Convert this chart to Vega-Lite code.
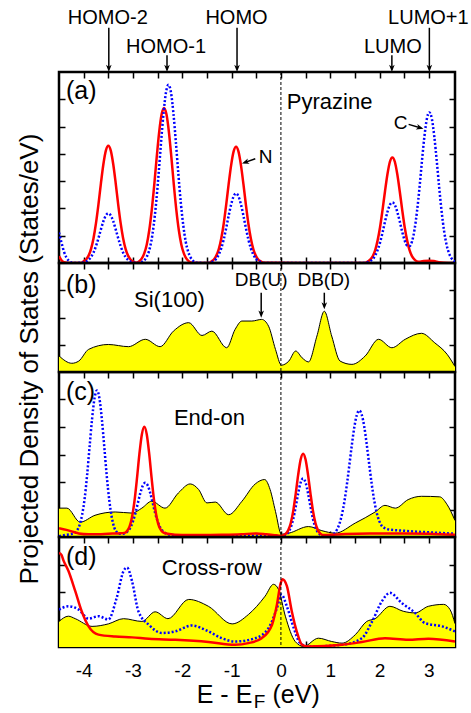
{
"$schema":"https://vega.github.io/schema/vega-lite/v6.json",
"padding":{"left":15,"top":7,"right":5,"bottom":0},
"background":"white",
"bounds":"flush",
"config":{"view":{"stroke":"black","strokeWidth":2.5},"axis":{"domain":false,"grid":false,"ticks":true,"tickSize":-6,"tickWidth":1.5,"tickColor":"black","labels":false},"concat":{"spacing":0},"font":"Liberation Sans"},
"datasets":{
"aN":[{"E":-4.5,"v":0.25},{"E":-4.45,"v":0.1},{"E":-4.4,"v":0.03},{"E":-4.3,"v":0},{"E":-4.05,"v":0},{"E":-4.0,"v":0.06},{"E":-3.95,"v":0.13},{"E":-3.9,"v":0.27},{"E":-3.85,"v":0.52},{"E":-3.8,"v":0.91},{"E":-3.75,"v":1.46},{"E":-3.7,"v":2.15},{"E":-3.65,"v":2.92},{"E":-3.6,"v":3.62},{"E":-3.55,"v":4.12},{"E":-3.5,"v":4.3},{"E":-3.45,"v":4.12},{"E":-3.4,"v":3.62},{"E":-3.35,"v":2.92},{"E":-3.3,"v":2.15},{"E":-3.25,"v":1.46},{"E":-3.2,"v":0.91},{"E":-3.15,"v":0.52},{"E":-3.1,"v":0.27},{"E":-3.05,"v":0.13},{"E":-3.0,"v":0.06},{"E":-2.94,"v":0.01},{"E":-2.87,"v":0.07},{"E":-2.82,"v":0.17},{"E":-2.77,"v":0.36},{"E":-2.72,"v":0.68},{"E":-2.67,"v":1.2},{"E":-2.62,"v":1.93},{"E":-2.57,"v":2.84},{"E":-2.52,"v":3.85},{"E":-2.47,"v":4.78},{"E":-2.42,"v":5.44},{"E":-2.37,"v":5.68},{"E":-2.32,"v":5.44},{"E":-2.27,"v":4.78},{"E":-2.22,"v":3.85},{"E":-2.17,"v":2.84},{"E":-2.12,"v":1.93},{"E":-2.07,"v":1.2},{"E":-2.02,"v":0.68},{"E":-1.97,"v":0.36},{"E":-1.92,"v":0.17},{"E":-1.87,"v":0.07},{"E":-1.8,"v":0.01},{"E":-1.45,"v":0},{"E":-1.41,"v":0.06},{"E":-1.36,"v":0.13},{"E":-1.31,"v":0.27},{"E":-1.26,"v":0.51},{"E":-1.21,"v":0.9},{"E":-1.16,"v":1.44},{"E":-1.11,"v":2.13},{"E":-1.06,"v":2.89},{"E":-1.01,"v":3.58},{"E":-0.96,"v":4.08},{"E":-0.91,"v":4.26},{"E":-0.86,"v":4.08},{"E":-0.81,"v":3.58},{"E":-0.76,"v":2.89},{"E":-0.71,"v":2.13},{"E":-0.66,"v":1.44},{"E":-0.61,"v":0.9},{"E":-0.56,"v":0.51},{"E":-0.51,"v":0.27},{"E":-0.46,"v":0.13},{"E":-0.41,"v":0.06},{"E":-0.35,"v":0.01},{"E":1.7,"v":0},{"E":1.76,"v":0.05},{"E":1.81,"v":0.12},{"E":1.86,"v":0.24},{"E":1.91,"v":0.46},{"E":1.96,"v":0.82},{"E":2.01,"v":1.31},{"E":2.06,"v":1.94},{"E":2.11,"v":2.62},{"E":2.16,"v":3.25},{"E":2.21,"v":3.71},{"E":2.26,"v":3.87},{"E":2.31,"v":3.71},{"E":2.36,"v":3.25},{"E":2.41,"v":2.62},{"E":2.46,"v":1.94},{"E":2.51,"v":1.31},{"E":2.56,"v":0.82},{"E":2.61,"v":0.46},{"E":2.66,"v":0.24},{"E":2.71,"v":0.12},{"E":2.76,"v":0.06},{"E":2.82,"v":0.05},{"E":2.9,"v":0.07},{"E":3.0,"v":0.08},{"E":3.1,"v":0.07},{"E":3.2,"v":0.03},{"E":3.3,"v":0.01},{"E":3.53,"v":0}],
"aC":[{"E":-4.5,"v":1.12},{"E":-4.45,"v":0.75},{"E":-4.4,"v":0.42},{"E":-4.35,"v":0.2},{"E":-4.3,"v":0.08},{"E":-4.25,"v":0.02},{"E":-4.15,"v":0},{"E":-4.0,"v":0.02},{"E":-3.95,"v":0.05},{"E":-3.9,"v":0.11},{"E":-3.85,"v":0.22},{"E":-3.8,"v":0.38},{"E":-3.75,"v":0.62},{"E":-3.7,"v":0.91},{"E":-3.65,"v":1.23},{"E":-3.6,"v":1.53},{"E":-3.55,"v":1.74},{"E":-3.5,"v":1.82},{"E":-3.45,"v":1.74},{"E":-3.4,"v":1.53},{"E":-3.35,"v":1.23},{"E":-3.3,"v":0.91},{"E":-3.25,"v":0.62},{"E":-3.2,"v":0.38},{"E":-3.15,"v":0.22},{"E":-3.1,"v":0.11},{"E":-3.05,"v":0.05},{"E":-3.0,"v":0.02},{"E":-2.9,"v":0},{"E":-2.78,"v":0.08},{"E":-2.73,"v":0.2},{"E":-2.68,"v":0.41},{"E":-2.63,"v":0.78},{"E":-2.58,"v":1.38},{"E":-2.53,"v":2.21},{"E":-2.48,"v":3.27},{"E":-2.43,"v":4.43},{"E":-2.38,"v":5.49},{"E":-2.33,"v":6.26},{"E":-2.28,"v":6.53},{"E":-2.23,"v":6.26},{"E":-2.18,"v":5.49},{"E":-2.13,"v":4.43},{"E":-2.08,"v":3.27},{"E":-2.03,"v":2.21},{"E":-1.98,"v":1.38},{"E":-1.93,"v":0.78},{"E":-1.88,"v":0.41},{"E":-1.83,"v":0.2},{"E":-1.78,"v":0.08},{"E":-1.72,"v":0.01},{"E":-1.5,"v":0},{"E":-1.41,"v":0.03},{"E":-1.36,"v":0.08},{"E":-1.31,"v":0.16},{"E":-1.26,"v":0.31},{"E":-1.21,"v":0.54},{"E":-1.16,"v":0.86},{"E":-1.11,"v":1.28},{"E":-1.06,"v":1.73},{"E":-1.01,"v":2.14},{"E":-0.96,"v":2.44},{"E":-0.91,"v":2.55},{"E":-0.86,"v":2.44},{"E":-0.81,"v":2.14},{"E":-0.76,"v":1.73},{"E":-0.71,"v":1.28},{"E":-0.66,"v":0.86},{"E":-0.61,"v":0.54},{"E":-0.56,"v":0.31},{"E":-0.51,"v":0.16},{"E":-0.46,"v":0.08},{"E":-0.41,"v":0.03},{"E":-0.35,"v":0},{"E":1.7,"v":0},{"E":1.76,"v":0.03},{"E":1.81,"v":0.07},{"E":1.86,"v":0.14},{"E":1.91,"v":0.27},{"E":1.96,"v":0.47},{"E":2.01,"v":0.75},{"E":2.06,"v":1.11},{"E":2.11,"v":1.51},{"E":2.16,"v":1.87},{"E":2.21,"v":2.13},{"E":2.26,"v":2.22},{"E":2.31,"v":2.13},{"E":2.36,"v":1.87},{"E":2.41,"v":1.52},{"E":2.46,"v":1.14},{"E":2.51,"v":0.82},{"E":2.56,"v":0.64},{"E":2.61,"v":0.62},{"E":2.66,"v":0.8},{"E":2.71,"v":1.23},{"E":2.76,"v":1.9},{"E":2.81,"v":2.76},{"E":2.86,"v":3.74},{"E":2.91,"v":4.64},{"E":2.96,"v":5.29},{"E":3.01,"v":5.52},{"E":3.06,"v":5.29},{"E":3.11,"v":4.64},{"E":3.16,"v":3.74},{"E":3.21,"v":2.76},{"E":3.26,"v":1.87},{"E":3.31,"v":1.16},{"E":3.36,"v":0.66},{"E":3.41,"v":0.35},{"E":3.46,"v":0.17},{"E":3.51,"v":0.07},{"E":3.53,"v":0.05}],
"bSi":[{"E":-4.5,"v":0.59},{"E":-4.24,"v":0.32},{"E":-4.1,"v":0.4},{"E":-3.9,"v":0.83},{"E":-3.5,"v":1.01},{"E":-3.09,"v":0.93},{"E":-2.75,"v":1.2},{"E":-2.45,"v":0.93},{"E":-2.18,"v":1.5},{"E":-1.87,"v":1.81},{"E":-1.6,"v":1.34},{"E":-1.4,"v":1.5},{"E":-1.1,"v":0.89},{"E":-0.93,"v":1.56},{"E":-0.79,"v":1.87},{"E":-0.59,"v":1.87},{"E":-0.39,"v":1.93},{"E":-0.25,"v":1.68},{"E":-0.11,"v":0.83},{"E":0.01,"v":0.25},{"E":0.16,"v":0.4},{"E":0.3,"v":0.77},{"E":0.43,"v":0.52},{"E":0.56,"v":0.37},{"E":0.73,"v":1.32},{"E":0.88,"v":2.23},{"E":1.03,"v":1.32},{"E":1.2,"v":0.4},{"E":1.44,"v":0.28},{"E":1.71,"v":0.59},{"E":1.98,"v":1.2},{"E":2.25,"v":0.89},{"E":2.52,"v":1.2},{"E":2.85,"v":1.42},{"E":3.12,"v":1.07},{"E":3.37,"v":0.65},{"E":3.53,"v":0.2}],
"cSi":[{"E":-4.5,"v":1.05},{"E":-4.34,"v":1.05},{"E":-4.07,"v":0.54},{"E":-3.77,"v":0.79},{"E":-3.36,"v":0.91},{"E":-3.02,"v":0.87},{"E":-2.82,"v":1.05},{"E":-2.62,"v":1.3},{"E":-2.35,"v":1.05},{"E":-2.08,"v":1.6},{"E":-1.84,"v":1.93},{"E":-1.67,"v":1.73},{"E":-1.5,"v":1.24},{"E":-1.33,"v":1.27},{"E":-1.06,"v":0.81},{"E":-0.79,"v":1.3},{"E":-0.52,"v":1.93},{"E":-0.33,"v":2.09},{"E":-0.22,"v":1.73},{"E":-0.11,"v":0.93},{"E":0.01,"v":0.1},{"E":0.16,"v":0.14},{"E":0.56,"v":0.38},{"E":0.83,"v":0.23},{"E":1.1,"v":0.14},{"E":1.51,"v":0.51},{"E":1.91,"v":0.91},{"E":2.11,"v":1.15},{"E":2.32,"v":1.05},{"E":2.58,"v":1.36},{"E":2.85,"v":1.48},{"E":3.22,"v":1.46},{"E":3.37,"v":1.18},{"E":3.53,"v":0.6}],
"cN":[{"E":-4.5,"v":0.32},{"E":-4.35,"v":0.26},{"E":-4.2,"v":0.18},{"E":-4.1,"v":0.13},{"E":-3.9,"v":0.1},{"E":-3.7,"v":0.1},{"E":-3.5,"v":0.12},{"E":-3.3,"v":0.13},{"E":-3.17,"v":0.15},{"E":-3.12,"v":0.22},{"E":-3.07,"v":0.38},{"E":-3.02,"v":0.72},{"E":-2.97,"v":1.3},{"E":-2.92,"v":2.11},{"E":-2.87,"v":3.01},{"E":-2.82,"v":3.73},{"E":-2.77,"v":4.01},{"E":-2.72,"v":3.73},{"E":-2.67,"v":3.01},{"E":-2.62,"v":2.11},{"E":-2.57,"v":1.3},{"E":-2.52,"v":0.72},{"E":-2.47,"v":0.38},{"E":-2.42,"v":0.22},{"E":-2.37,"v":0.15},{"E":-2.3,"v":0.12},{"E":-2.0,"v":0.07},{"E":-1.6,"v":0.07},{"E":-1.2,"v":0.08},{"E":-0.8,"v":0.1},{"E":-0.5,"v":0.13},{"E":-0.3,"v":0.1},{"E":-0.1,"v":0.06},{"E":0.0,"v":0.04},{"E":0.05,"v":0.07},{"E":0.1,"v":0.12},{"E":0.15,"v":0.25},{"E":0.2,"v":0.51},{"E":0.25,"v":0.95},{"E":0.3,"v":1.57},{"E":0.35,"v":2.26},{"E":0.4,"v":2.82},{"E":0.45,"v":3.03},{"E":0.5,"v":2.82},{"E":0.55,"v":2.26},{"E":0.6,"v":1.57},{"E":0.65,"v":0.95},{"E":0.7,"v":0.51},{"E":0.75,"v":0.25},{"E":0.8,"v":0.12},{"E":0.85,"v":0.07},{"E":1.0,"v":0.08},{"E":1.3,"v":0.11},{"E":1.8,"v":0.13},{"E":2.5,"v":0.13},{"E":3.0,"v":0.12},{"E":3.53,"v":0.08}],
"cC":[{"E":-4.5,"v":0.03},{"E":-4.35,"v":0.08},{"E":-4.23,"v":0.12},{"E":-4.18,"v":0.15},{"E":-4.13,"v":0.25},{"E":-4.08,"v":0.45},{"E":-4.03,"v":0.82},{"E":-3.98,"v":1.4},{"E":-3.93,"v":2.25},{"E":-3.88,"v":3.28},{"E":-3.83,"v":4.28},{"E":-3.78,"v":5.04},{"E":-3.73,"v":5.33},{"E":-3.68,"v":5.04},{"E":-3.63,"v":4.27},{"E":-3.58,"v":3.24},{"E":-3.53,"v":2.19},{"E":-3.48,"v":1.33},{"E":-3.43,"v":0.72},{"E":-3.38,"v":0.35},{"E":-3.33,"v":0.18},{"E":-3.28,"v":0.12},{"E":-3.2,"v":0.12},{"E":-3.15,"v":0.15},{"E":-3.1,"v":0.22},{"E":-3.05,"v":0.35},{"E":-3.0,"v":0.57},{"E":-2.95,"v":0.87},{"E":-2.9,"v":1.24},{"E":-2.85,"v":1.6},{"E":-2.8,"v":1.87},{"E":-2.75,"v":1.97},{"E":-2.7,"v":1.87},{"E":-2.65,"v":1.6},{"E":-2.6,"v":1.24},{"E":-2.55,"v":0.87},{"E":-2.5,"v":0.57},{"E":-2.45,"v":0.35},{"E":-2.4,"v":0.22},{"E":-2.35,"v":0.15},{"E":-2.25,"v":0.08},{"E":-2.0,"v":0.05},{"E":-1.5,"v":0.04},{"E":-1.0,"v":0.04},{"E":-0.5,"v":0.05},{"E":-0.1,"v":0.04},{"E":0.0,"v":0.03},{"E":0.05,"v":0.04},{"E":0.1,"v":0.08},{"E":0.15,"v":0.17},{"E":0.2,"v":0.35},{"E":0.25,"v":0.66},{"E":0.3,"v":1.1},{"E":0.35,"v":1.59},{"E":0.4,"v":1.98},{"E":0.45,"v":2.13},{"E":0.5,"v":1.98},{"E":0.55,"v":1.59},{"E":0.6,"v":1.1},{"E":0.65,"v":0.66},{"E":0.7,"v":0.35},{"E":0.75,"v":0.17},{"E":0.8,"v":0.08},{"E":0.85,"v":0.04},{"E":1.0,"v":0.05},{"E":1.09,"v":0.14},{"E":1.14,"v":0.28},{"E":1.19,"v":0.5},{"E":1.24,"v":0.84},{"E":1.29,"v":1.32},{"E":1.34,"v":1.94},{"E":1.39,"v":2.65},{"E":1.44,"v":3.37},{"E":1.49,"v":4.01},{"E":1.54,"v":4.44},{"E":1.59,"v":4.6},{"E":1.64,"v":4.44},{"E":1.69,"v":4.01},{"E":1.74,"v":3.37},{"E":1.79,"v":2.65},{"E":1.84,"v":1.94},{"E":1.89,"v":1.35},{"E":1.94,"v":0.9},{"E":1.99,"v":0.6},{"E":2.04,"v":0.42},{"E":2.1,"v":0.33},{"E":2.2,"v":0.27},{"E":2.4,"v":0.24},{"E":2.7,"v":0.2},{"E":3.0,"v":0.17},{"E":3.53,"v":0.12}],
"dSi":[{"E":-4.5,"v":0.93},{"E":-4.31,"v":1.12},{"E":-4.17,"v":1.03},{"E":-3.83,"v":0.75},{"E":-3.5,"v":0.84},{"E":-3.19,"v":1.03},{"E":-2.82,"v":0.93},{"E":-2.55,"v":1.28},{"E":-2.29,"v":1.03},{"E":-1.87,"v":1.73},{"E":-1.47,"v":1.48},{"E":-0.99,"v":0.84},{"E":-0.66,"v":1.18},{"E":-0.32,"v":1.85},{"E":-0.15,"v":2.28},{"E":-0.05,"v":2.1},{"E":0.09,"v":1.12},{"E":0.29,"v":0.2},{"E":0.46,"v":0.02},{"E":0.76,"v":0.32},{"E":1.03,"v":0.2},{"E":1.24,"v":0.14},{"E":1.51,"v":0.45},{"E":1.74,"v":0.93},{"E":1.91,"v":1.03},{"E":2.21,"v":1.48},{"E":2.48,"v":1.3},{"E":2.72,"v":1.24},{"E":2.99,"v":1.48},{"E":3.3,"v":1.55},{"E":3.43,"v":1.36},{"E":3.53,"v":0.85}],
"dN":[{"E":-4.5,"v":3.42},{"E":-4.45,"v":3.35},{"E":-4.41,"v":3.15},{"E":-4.31,"v":2.77},{"E":-4.17,"v":2.03},{"E":-4.04,"v":1.3},{"E":-3.9,"v":0.75},{"E":-3.7,"v":0.45},{"E":-3.36,"v":0.38},{"E":-3.02,"v":0.35},{"E":-2.68,"v":0.3},{"E":-2.14,"v":0.26},{"E":-1.47,"v":0.18},{"E":-0.93,"v":0.08},{"E":-0.66,"v":0.14},{"E":-0.39,"v":0.32},{"E":-0.18,"v":0.81},{"E":-0.08,"v":1.55},{"E":-0.01,"v":2.28},{"E":0.03,"v":2.46},{"E":0.12,"v":2.22},{"E":0.22,"v":1.3},{"E":0.32,"v":0.57},{"E":0.43,"v":0.08},{"E":0.56,"v":0.02},{"E":1.24,"v":0.08},{"E":1.64,"v":0.18},{"E":2.11,"v":0.32},{"E":2.58,"v":0.26},{"E":2.99,"v":0.3},{"E":3.53,"v":0.2}],
"dC":[{"E":-4.5,"v":1.36},{"E":-4.31,"v":1.48},{"E":-4.1,"v":1.36},{"E":-3.9,"v":1.03},{"E":-3.7,"v":1.12},{"E":-3.5,"v":1.0},{"E":-3.33,"v":1.79},{"E":-3.19,"v":2.77},{"E":-3.12,"v":2.89},{"E":-3.02,"v":2.4},{"E":-2.89,"v":1.3},{"E":-2.68,"v":0.81},{"E":-2.41,"v":0.51},{"E":-2.14,"v":0.57},{"E":-1.81,"v":0.78},{"E":-1.47,"v":0.57},{"E":-1.2,"v":0.32},{"E":-0.93,"v":0.2},{"E":-0.52,"v":0.32},{"E":-0.25,"v":0.69},{"E":-0.08,"v":1.42},{"E":0.01,"v":1.91},{"E":0.12,"v":1.48},{"E":0.26,"v":0.69},{"E":0.39,"v":0.14},{"E":0.56,"v":0.02},{"E":1.24,"v":0.08},{"E":1.64,"v":0.32},{"E":1.85,"v":0.93},{"E":2.05,"v":1.67},{"E":2.21,"v":1.97},{"E":2.45,"v":1.6},{"E":2.72,"v":1.24},{"E":2.92,"v":0.87},{"E":3.27,"v":0.75},{"E":3.53,"v":0.57}]
},
"vconcat":[
{"width":396,"height":191,
 "resolve":{"axis":{"x":"independent","y":"independent"}},
 "layer":[
  {"data":{"name":"aN"},"mark":{"type":"line","color":"#ff0000","strokeWidth":2.5,"interpolate":"monotone","clip":true},
   "encoding":{"x":{"field":"E","type":"quantitative","scale":{"domain":[-4.5,3.53],"nice":false,"zero":false},"axis":{"orient":"bottom","values":[-4,-3.5,-3,-2.5,-2,-1.5,-1,-0.5,0,0.5,1,1.5,2,2.5,3],"title":null}},
    "y":{"field":"v","type":"quantitative","scale":{"domain":[0,7],"nice":false},"axis":{"orient":"left","values":[1,2,3,4,5,6],"title":null}}}},
  {"data":{"name":"aC"},"mark":{"type":"line","color":"#0000ff","strokeWidth":2.5,"strokeDash":[2,2],"interpolate":"monotone","clip":true},
   "encoding":{"x":{"field":"E","type":"quantitative","scale":{"domain":[-4.5,3.53],"nice":false,"zero":false},"axis":{"orient":"top","values":[-4,-3.5,-3,-2.5,-2,-1.5,-1,-0.5,0,0.5,1,1.5,2,2.5,3],"title":null}},
    "y":{"field":"v","type":"quantitative","scale":{"domain":[0,7],"nice":false},"axis":{"orient":"right","values":[1,2,3,4,5,6],"title":null}}}},
  {"data":{"values":[{"E":0}]},"mark":{"type":"rule","color":"black","strokeWidth":1,"strokeDash":[3,2]},
   "encoding":{"x":{"field":"E","type":"quantitative","scale":{"domain":[-4.5,3.53],"nice":false,"zero":false},"axis":null}}},
  {"data":{"values":[{"E":-4.36,"v":6.01,"t":"(a)"}]},"mark":{"type":"text","fontSize":25,"align":"left","baseline":"alphabetic","font":"Liberation Sans","color":"black"},
   "encoding":{"x":{"field":"E","type":"quantitative","scale":{"domain":[-4.5,3.53],"nice":false,"zero":false},"axis":null},"y":{"field":"v","type":"quantitative","scale":{"domain":[0,7],"nice":false},"axis":null},"text":{"field":"t"}}},
  {"data":{"values":[{"E":0.12,"v":5.63,"t":"Pyrazine"}]},"mark":{"type":"text","fontSize":22,"align":"left","baseline":"alphabetic","font":"Liberation Sans","color":"black"},
   "encoding":{"x":{"field":"E","type":"quantitative","scale":{"domain":[-4.5,3.53],"nice":false,"zero":false},"axis":null},"y":{"field":"v","type":"quantitative","scale":{"domain":[0,7],"nice":false},"axis":null},"text":{"field":"t"}}},
  {"data":{"values":[{"E":-0.45,"v":3.65,"t":"N"},{"E":2.29,"v":4.9,"t":"C"}]},"mark":{"type":"text","fontSize":19,"align":"left","baseline":"alphabetic","font":"Liberation Sans","color":"black"},
   "encoding":{"x":{"field":"E","type":"quantitative","scale":{"domain":[-4.5,3.53],"nice":false,"zero":false},"axis":null},"y":{"field":"v","type":"quantitative","scale":{"domain":[0,7],"nice":false},"axis":null},"text":{"field":"t"}}},
  {"data":{"values":[{"E":-3.51,"v":8.75,"t":"HOMO-2"},{"E":-2.33,"v":7.71,"t":"HOMO-1"},{"E":-0.9,"v":8.75,"t":"HOMO"},{"E":2.27,"v":7.71,"t":"LUMO"},{"E":2.99,"v":8.75,"t":"LUMO+1"}]},"mark":{"type":"text","fontSize":20,"align":"center","baseline":"alphabetic","font":"Liberation Sans","color":"black"},
   "encoding":{"x":{"field":"E","type":"quantitative","scale":{"domain":[-4.5,3.53],"nice":false,"zero":false},"axis":null},"y":{"field":"v","type":"quantitative","scale":{"domain":[0,7],"nice":false},"axis":null},"text":{"field":"t"}}},
  {"data":{"values":[{"E":-3.49,"v":8.62,"E2":-3.49,"v2":7.1},{"E":-2.31,"v":7.61,"E2":-2.31,"v2":7.1},{"E":-0.89,"v":8.62,"E2":-0.89,"v2":7.1},{"E":2.25,"v":7.61,"E2":2.25,"v2":7.1},{"E":3.01,"v":8.62,"E2":3.01,"v2":7.1},{"E":-0.52,"v":3.82,"E2":-0.74,"v2":3.68},{"E":2.59,"v":5.08,"E2":2.84,"v2":4.95}]},"mark":{"type":"rule","color":"black","strokeWidth":1.5},
   "encoding":{"x":{"field":"E","type":"quantitative","scale":{"domain":[-4.5,3.53],"nice":false,"zero":false},"axis":null},"y":{"field":"v","type":"quantitative","scale":{"domain":[0,7],"nice":false},"axis":null},"x2":{"field":"E2"},"y2":{"field":"v2"}}},
  {"data":{"values":[{"E":-3.49,"v":7.0},{"E":-2.31,"v":7.0},{"E":-0.89,"v":7.0},{"E":2.25,"v":7.0},{"E":3.01,"v":7.0}]},"mark":{"type":"point","shape":"M0,0L-0.7,-1.8L0,-1.3L0.7,-1.8Z","size":64,"filled":true,"color":"black","opacity":1},
   "encoding":{"x":{"field":"E","type":"quantitative","scale":{"domain":[-4.5,3.53],"nice":false,"zero":false},"axis":null},"y":{"field":"v","type":"quantitative","scale":{"domain":[0,7],"nice":false},"axis":null}}},
  {"data":{"values":[{"E":-0.79,"v":3.65}]},"mark":{"type":"point","shape":"M0,0L-0.7,-1.8L0,-1.3L0.7,-1.8Z","size":64,"filled":true,"color":"black","opacity":1,"angle":71},
   "encoding":{"x":{"field":"E","type":"quantitative","scale":{"domain":[-4.5,3.53],"nice":false,"zero":false},"axis":null},"y":{"field":"v","type":"quantitative","scale":{"domain":[0,7],"nice":false},"axis":null}}},
  {"data":{"values":[{"E":2.89,"v":4.92}]},"mark":{"type":"point","shape":"M0,0L-0.7,-1.8L0,-1.3L0.7,-1.8Z","size":64,"filled":true,"color":"black","opacity":1,"angle":286},
   "encoding":{"x":{"field":"E","type":"quantitative","scale":{"domain":[-4.5,3.53],"nice":false,"zero":false},"axis":null},"y":{"field":"v","type":"quantitative","scale":{"domain":[0,7],"nice":false},"axis":null}}}
 ]},
{"width":396,"height":109,
 "resolve":{"axis":{"x":"independent","y":"independent"}},
 "layer":[
  {"data":{"name":"bSi"},"mark":{"type":"area","color":"#ffff00","opacity":1,"interpolate":"monotone","clip":true,"line":{"color":"black","strokeWidth":1}},
   "encoding":{"x":{"field":"E","type":"quantitative","scale":{"domain":[-4.5,3.53],"nice":false,"zero":false},"axis":{"orient":"bottom","values":[-4,-3.5,-3,-2.5,-2,-1.5,-1,-0.5,0,0.5,1,1.5,2,2.5,3],"title":null}},
    "y":{"field":"v","type":"quantitative","scale":{"domain":[0,4],"nice":false},"axis":{"orient":"left","values":[1,2,3],"title":null}}}},
  {"data":{"values":[{"E":-0.4,"v":2.91,"E2":-0.4,"v2":2.1},{"E":0.88,"v":2.91,"E2":0.88,"v2":2.4}]},"mark":{"type":"rule","color":"black","strokeWidth":1.5},
   "encoding":{"x":{"field":"E","type":"quantitative","scale":{"domain":[-4.5,3.53],"nice":false,"zero":false},"axis":{"orient":"top","values":[-4,-3.5,-3,-2.5,-2,-1.5,-1,-0.5,0,0.5,1,1.5,2,2.5,3],"title":null}},
    "y":{"field":"v","type":"quantitative","scale":{"domain":[0,4],"nice":false},"axis":{"orient":"right","values":[1,2,3],"title":null}},"x2":{"field":"E2"},"y2":{"field":"v2"}}},
  {"data":{"values":[{"E":-0.4,"v":1.99},{"E":0.88,"v":2.3}]},"mark":{"type":"point","shape":"M0,0L-0.7,-1.8L0,-1.3L0.7,-1.8Z","size":64,"filled":true,"color":"black","opacity":1},
   "encoding":{"x":{"field":"E","type":"quantitative","scale":{"domain":[-4.5,3.53],"nice":false,"zero":false},"axis":null},"y":{"field":"v","type":"quantitative","scale":{"domain":[0,4],"nice":false},"axis":null}}},
  {"data":{"values":[{"E":0}]},"mark":{"type":"rule","color":"black","strokeWidth":1,"strokeDash":[3,2]},
   "encoding":{"x":{"field":"E","type":"quantitative","scale":{"domain":[-4.5,3.53],"nice":false,"zero":false},"axis":null}}},
  {"data":{"values":[{"E":-4.36,"v":2.9,"t":"(b)"}]},"mark":{"type":"text","fontSize":25,"align":"left","baseline":"alphabetic","font":"Liberation Sans","color":"black"},
   "encoding":{"x":{"field":"E","type":"quantitative","scale":{"domain":[-4.5,3.53],"nice":false,"zero":false},"axis":null},"y":{"field":"v","type":"quantitative","scale":{"domain":[0,4],"nice":false},"axis":null},"text":{"field":"t"}}},
  {"data":{"values":[{"E":-2.26,"v":2.39,"t":"Si(100)"}]},"mark":{"type":"text","fontSize":22,"align":"center","baseline":"alphabetic","font":"Liberation Sans","color":"black"},
   "encoding":{"x":{"field":"E","type":"quantitative","scale":{"domain":[-4.5,3.53],"nice":false,"zero":false},"axis":null},"y":{"field":"v","type":"quantitative","scale":{"domain":[0,4],"nice":false},"axis":null},"text":{"field":"t"}}},
  {"data":{"values":[{"E":-0.4,"v":3.16,"t":"DB(U)"},{"E":0.87,"v":3.16,"t":"DB(D)"}]},"mark":{"type":"text","fontSize":19,"align":"center","baseline":"alphabetic","font":"Liberation Sans","color":"black"},
   "encoding":{"x":{"field":"E","type":"quantitative","scale":{"domain":[-4.5,3.53],"nice":false,"zero":false},"axis":null},"y":{"field":"v","type":"quantitative","scale":{"domain":[0,4],"nice":false},"axis":null},"text":{"field":"t"}}}
 ]},
{"width":396,"height":165,
 "resolve":{"axis":{"x":"independent","y":"independent"}},
 "layer":[
  {"data":{"name":"cSi"},"mark":{"type":"area","color":"#ffff00","opacity":1,"interpolate":"monotone","clip":true,"line":{"color":"black","strokeWidth":1}},
   "encoding":{"x":{"field":"E","type":"quantitative","scale":{"domain":[-4.5,3.53],"nice":false,"zero":false},"axis":{"orient":"bottom","values":[-4,-3.5,-3,-2.5,-2,-1.5,-1,-0.5,0,0.5,1,1.5,2,2.5,3],"title":null}},
    "y":{"field":"v","type":"quantitative","scale":{"domain":[0,6],"nice":false},"axis":{"orient":"left","values":[1,2,3,4,5],"title":null}}}},
  {"data":{"name":"cC"},"mark":{"type":"line","color":"#0000ff","strokeWidth":2.5,"strokeDash":[2,2],"interpolate":"monotone","clip":true},
   "encoding":{"x":{"field":"E","type":"quantitative","scale":{"domain":[-4.5,3.53],"nice":false,"zero":false},"axis":{"orient":"top","values":[-4,-3.5,-3,-2.5,-2,-1.5,-1,-0.5,0,0.5,1,1.5,2,2.5,3],"title":null}},
    "y":{"field":"v","type":"quantitative","scale":{"domain":[0,6],"nice":false},"axis":{"orient":"right","values":[1,2,3,4,5],"title":null}}}},
  {"data":{"name":"cN"},"mark":{"type":"line","color":"#ff0000","strokeWidth":2.5,"interpolate":"monotone","clip":true},
   "encoding":{"x":{"field":"E","type":"quantitative","scale":{"domain":[-4.5,3.53],"nice":false,"zero":false},"axis":null},
    "y":{"field":"v","type":"quantitative","scale":{"domain":[0,6],"nice":false},"axis":null}}},
  {"data":{"values":[{"E":0}]},"mark":{"type":"rule","color":"black","strokeWidth":1,"strokeDash":[3,2]},
   "encoding":{"x":{"field":"E","type":"quantitative","scale":{"domain":[-4.5,3.53],"nice":false,"zero":false},"axis":null}}},
  {"data":{"values":[{"E":-4.36,"v":4.98,"t":"(c)"}]},"mark":{"type":"text","fontSize":25,"align":"left","baseline":"alphabetic","font":"Liberation Sans","color":"black"},
   "encoding":{"x":{"field":"E","type":"quantitative","scale":{"domain":[-4.5,3.53],"nice":false,"zero":false},"axis":null},"y":{"field":"v","type":"quantitative","scale":{"domain":[0,6],"nice":false},"axis":null},"text":{"field":"t"}}},
  {"data":{"values":[{"E":-1.45,"v":4.07,"t":"End-on"}]},"mark":{"type":"text","fontSize":22,"align":"center","baseline":"alphabetic","font":"Liberation Sans","color":"black"},
   "encoding":{"x":{"field":"E","type":"quantitative","scale":{"domain":[-4.5,3.53],"nice":false,"zero":false},"axis":null},"y":{"field":"v","type":"quantitative","scale":{"domain":[0,6],"nice":false},"axis":null},"text":{"field":"t"}}},
  {"data":{"values":[{"E":-4.93,"v":6.47,"t":"Projected Density of States (States/eV)"}]},"mark":{"type":"text","fontSize":26,"angle":270,"align":"center","baseline":"alphabetic","font":"Liberation Sans","color":"black"},
   "encoding":{"x":{"field":"E","type":"quantitative","scale":{"domain":[-4.5,3.53],"nice":false,"zero":false},"axis":null},"y":{"field":"v","type":"quantitative","scale":{"domain":[0,6],"nice":false},"axis":null},"text":{"field":"t"}}}
 ]},
{"width":396,"height":110,
 "resolve":{"axis":{"x":"independent","y":"independent"}},
 "layer":[
  {"data":{"name":"dSi"},"mark":{"type":"area","color":"#ffff00","opacity":1,"interpolate":"monotone","clip":true,"line":{"color":"black","strokeWidth":1}},
   "encoding":{"x":{"field":"E","type":"quantitative","scale":{"domain":[-4.5,3.53],"nice":false,"zero":false},"axis":{"orient":"bottom","values":[-4,-3.5,-3,-2.5,-2,-1.5,-1,-0.5,0,0.5,1,1.5,2,2.5,3],"title":null,"labels":true,"labelExpr":"datum.value % 1 === 0 ? '' + datum.value : ''","labelFontSize":19,"labelFont":"Liberation Sans","labelColor":"black","labelPadding":20,"labelOverlap":false,"labelFlush":false,"labelBound":false}},
    "y":{"field":"v","type":"quantitative","scale":{"domain":[0,4],"nice":false},"axis":{"orient":"left","values":[1,2,3],"title":null}}}},
  {"data":{"name":"dC"},"mark":{"type":"line","color":"#0000ff","strokeWidth":2.5,"strokeDash":[2,2],"interpolate":"monotone","clip":true},
   "encoding":{"x":{"field":"E","type":"quantitative","scale":{"domain":[-4.5,3.53],"nice":false,"zero":false},"axis":{"orient":"top","values":[-4,-3.5,-3,-2.5,-2,-1.5,-1,-0.5,0,0.5,1,1.5,2,2.5,3],"title":null}},
    "y":{"field":"v","type":"quantitative","scale":{"domain":[0,4],"nice":false},"axis":{"orient":"right","values":[1,2,3],"title":null}}}},
  {"data":{"name":"dN"},"mark":{"type":"line","color":"#ff0000","strokeWidth":2.5,"interpolate":"monotone","clip":true},
   "encoding":{"x":{"field":"E","type":"quantitative","scale":{"domain":[-4.5,3.53],"nice":false,"zero":false},"axis":null},
    "y":{"field":"v","type":"quantitative","scale":{"domain":[0,4],"nice":false},"axis":null}}},
  {"data":{"values":[{"E":0}]},"mark":{"type":"rule","color":"black","strokeWidth":1,"strokeDash":[3,2]},
   "encoding":{"x":{"field":"E","type":"quantitative","scale":{"domain":[-4.5,3.53],"nice":false,"zero":false},"axis":null}}},
  {"data":{"values":[{"E":-4.36,"v":2.98,"t":"(d)"}]},"mark":{"type":"text","fontSize":25,"align":"left","baseline":"alphabetic","font":"Liberation Sans","color":"black"},
   "encoding":{"x":{"field":"E","type":"quantitative","scale":{"domain":[-4.5,3.53],"nice":false,"zero":false},"axis":null},"y":{"field":"v","type":"quantitative","scale":{"domain":[0,4],"nice":false},"axis":null},"text":{"field":"t"}}},
  {"data":{"values":[{"E":-0.58,"v":-2.02,"t":"E - E"}]},"mark":{"type":"text","fontSize":25,"align":"right","baseline":"alphabetic","font":"Liberation Sans","color":"black"},
   "encoding":{"x":{"field":"E","type":"quantitative","scale":{"domain":[-4.5,3.53],"nice":false,"zero":false},"axis":null},"y":{"field":"v","type":"quantitative","scale":{"domain":[0,4],"nice":false},"axis":null},"text":{"field":"t"}}},
  {"data":{"values":[{"E":-0.17,"v":-2.02,"t":"(eV)"}]},"mark":{"type":"text","fontSize":25,"align":"left","baseline":"alphabetic","font":"Liberation Sans","color":"black"},
   "encoding":{"x":{"field":"E","type":"quantitative","scale":{"domain":[-4.5,3.53],"nice":false,"zero":false},"axis":null},"y":{"field":"v","type":"quantitative","scale":{"domain":[0,4],"nice":false},"axis":null},"text":{"field":"t"}}},
  {"data":{"values":[{"E":-0.55,"v":-2.22,"t":"F"}]},"mark":{"type":"text","fontSize":19,"align":"left","baseline":"alphabetic","font":"Liberation Sans","color":"black"},
   "encoding":{"x":{"field":"E","type":"quantitative","scale":{"domain":[-4.5,3.53],"nice":false,"zero":false},"axis":null},"y":{"field":"v","type":"quantitative","scale":{"domain":[0,4],"nice":false},"axis":null},"text":{"field":"t"}}},
  {"data":{"values":[{"E":-1.4,"v":2.62,"t":"Cross-row"}]},"mark":{"type":"text","fontSize":22,"align":"center","baseline":"alphabetic","font":"Liberation Sans","color":"black"},
   "encoding":{"x":{"field":"E","type":"quantitative","scale":{"domain":[-4.5,3.53],"nice":false,"zero":false},"axis":null},"y":{"field":"v","type":"quantitative","scale":{"domain":[0,4],"nice":false},"axis":null},"text":{"field":"t"}}}
 ]}
]
}
